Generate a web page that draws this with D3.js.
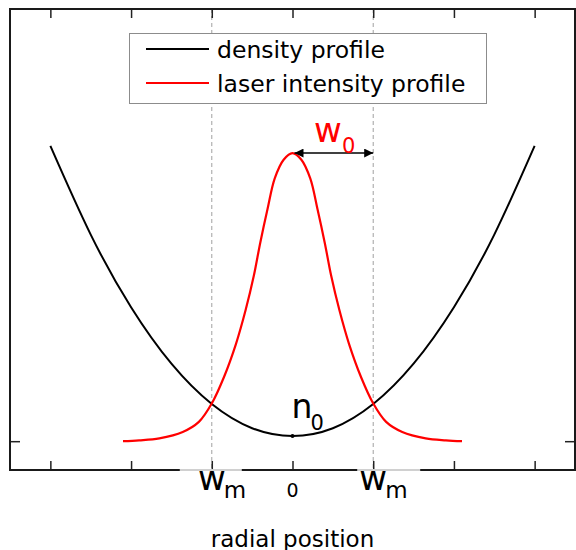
<!DOCTYPE html>
<html>
<head>
<meta charset="utf-8">
<script src="https://cdn.jsdelivr.net/npm/d3@7"></script>
<style>
  html, body { margin: 0; padding: 0; background: #fff; }
  svg { display: block; font-family: "DejaVu Sans", Verdana, sans-serif; }
</style>
</head>
<body>
<svg id="chart" width="576" height="550"></svg>
<script>
// ---------- data ----------
const densityX = [-3, -2.5, -2, -1.5, -1, -0.5, 0, 0.5, 1, 1.5, 2, 2.5, 3];
const densityY = [1.025, 0.717, 0.465, 0.269, 0.129, 0.045, 0.018, 0.045, 0.129, 0.269, 0.465, 0.717, 1.025];

const laserX = [-2.1, -1.9, -1.65, -1.36, -1.16, -1.0, -0.85, -0.7, -0.58, -0.48, -0.4, -0.31, -0.22, -0.11, 0,
                0.11, 0.22, 0.31, 0.4, 0.48, 0.58, 0.7, 0.85, 1.0, 1.16, 1.36, 1.65, 1.9, 2.1];
const laserY = [0.0, 0.003, 0.010, 0.032, 0.067, 0.131, 0.222, 0.338, 0.456, 0.573, 0.688, 0.805, 0.912, 0.977, 1.0,
                0.977, 0.912, 0.805, 0.688, 0.573, 0.456, 0.338, 0.222, 0.131, 0.067, 0.032, 0.010, 0.003, 0.0];

const xTickValues = [-3, -2, -1, 0, 1, 2, 3];
const yTickValues = [0];
const xTickLabelValues = [-1, 0, 1];
const xTickLabelMain = ["w", "0", "w"];
const xTickLabelSub = ["m", "", "m"];
const waistMarkers = [-1, 1];           // dashed lines at ±w_m
const w0Arrow = [0, 1];                 // arrow from peak to w0
const n0Point = [0, 0.018];

const seriesNames = ["density profile", "laser intensity profile"];
const seriesColors = ["#000000", "#ff0000"];
const xAxisTitle = "radial position";

// ---------- layout ----------
const svg = d3.select("#chart");
const pL = 10, pR = 575, pT = 9, pB = 470;

const x = d3.scaleLinear().domain([-3.5, 3.5]).range([pL, pR]);
const y = d3.scaleLinear().domain([-0.1, 1.5]).range([pB, pT]);

// dashed guide lines
svg.append("g").selectAll("line").data(waistMarkers).join("line")
  .attr("x1", d => x(d)).attr("x2", d => x(d))
  .attr("y1", pT).attr("y2", pB)
  .attr("stroke", "#a0a0a0").attr("stroke-width", 1)
  .attr("stroke-dasharray", "4,3");

// curves
const densityData = densityX.map((v, i) => [v, densityY[i]]);
const laserData = laserX.map((v, i) => [v, laserY[i]]);

svg.append("path").datum(densityData)
  .attr("fill", "none").attr("stroke", seriesColors[0]).attr("stroke-width", 2)
  .attr("d", d3.line().x(d => x(d[0])).y(d => y(d[1])).curve(d3.curveNatural));

svg.append("path").datum(laserData)
  .attr("fill", "none").attr("stroke", seriesColors[1]).attr("stroke-width", 2.2)
  .attr("d", d3.line().x(d => x(d[0])).y(d => y(d[1])).curve(d3.curveCatmullRom.alpha(0.5)));

// n0 dot
svg.append("circle").attr("cx", x(n0Point[0])).attr("cy", y(n0Point[1])).attr("r", 2).attr("fill", "#000");

// axes (inward ticks, no labels)
const axB = svg.append("g").attr("transform", `translate(0,${pB})`)
  .call(d3.axisBottom(x).tickValues(xTickValues).tickSize(-9).tickFormat(""));
const axT = svg.append("g").attr("transform", `translate(0,${pT})`)
  .call(d3.axisTop(x).tickValues(xTickValues).tickSize(-9).tickFormat(""));
const axL = svg.append("g").attr("transform", `translate(${pL},0)`)
  .call(d3.axisLeft(y).tickValues(yTickValues).tickSize(-10).tickFormat(""));
const axR = svg.append("g").attr("transform", `translate(${pR},0)`)
  .call(d3.axisRight(y).tickValues(yTickValues).tickSize(-10).tickFormat(""));
[axB, axT, axL, axR].forEach(g => {
  g.select(".domain").remove();
  g.selectAll(".tick line").attr("stroke", "#222").attr("stroke-width", 1.5);
});

// frame
svg.append("rect").attr("x", pL).attr("y", pT)
  .attr("width", pR - pL).attr("height", pB - pT)
  .attr("fill", "none").attr("stroke", "#1a1a1a").attr("stroke-width", 2);

// label boxes covering the bottom axis line (light grey segments)
const gapOffsets = [[-32, 30], null, [-16, 47]];
xTickLabelValues.forEach((v, i) => {
  if (!gapOffsets[i]) return;
  svg.append("line")
    .attr("x1", x(v) + gapOffsets[i][0]).attr("x2", x(v) + gapOffsets[i][1])
    .attr("y1", pB).attr("y2", pB)
    .attr("stroke", "#d0d0d0").attr("stroke-width", 2.2);
});

// custom tick labels
xTickLabelValues.forEach((v, i) => {
  const tx = x(v);
  if (xTickLabelSub[i]) {
    svg.append("text").attr("x", tx).attr("y", 490).attr("text-anchor", "middle")
      .attr("font-size", 34).attr("fill", "#000").text(xTickLabelMain[i]);
    svg.append("text").attr("x", tx + 12).attr("y", 497.5).attr("text-anchor", "start")
      .attr("font-size", 23).attr("fill", "#000").text(xTickLabelSub[i]);
  } else {
    svg.append("text").attr("x", tx).attr("y", 496.5).attr("text-anchor", "middle")
      .attr("font-size", 19).attr("fill", "#000").text(xTickLabelMain[i]);
  }
});

// axis title
svg.append("text").attr("x", x(0)).attr("y", 546.5).attr("text-anchor", "middle")
  .attr("font-size", 23).attr("fill", "#000").text(xAxisTitle);

// n0 label
svg.append("text").attr("x", x(n0Point[0]) - 1).attr("y", 418).attr("font-size", 33).attr("fill", "#000").text("n");
svg.append("text").attr("x", x(n0Point[0]) + 18).attr("y", 430).attr("font-size", 21).attr("fill", "#000").text("0");

// w0 arrow
const defs = svg.append("defs");
defs.append("marker").attr("id", "ah").attr("viewBox", "0 0 10 10")
  .attr("refX", 10).attr("refY", 5).attr("markerWidth", 11).attr("markerHeight", 9)
  .attr("markerUnits", "userSpaceOnUse").attr("orient", "auto-start-reverse")
  .append("path").attr("d", "M0,0 L10,5 L0,10 Z").attr("fill", "#000");
svg.append("line")
  .attr("x1", x(w0Arrow[0]) + 2).attr("x2", x(w0Arrow[1]))
  .attr("y1", y(1)).attr("y2", y(1))
  .attr("stroke", "#000").attr("stroke-width", 1.5)
  .attr("marker-start", "url(#ah)").attr("marker-end", "url(#ah)");
svg.append("text").attr("x", 328).attr("y", 141.5).attr("text-anchor", "middle")
  .attr("font-size", 34).attr("fill", "#ff0000").text("w");
svg.append("text").attr("x", 342).attr("y", 153).attr("font-size", 21).attr("fill", "#ff0000").text("0");

// legend
const lg = svg.append("g");
lg.append("rect").attr("x", 129.5).attr("y", 33.5).attr("width", 357).attr("height", 70)
  .attr("fill", "#fff").attr("stroke", "#8c8c8c").attr("stroke-width", 1);
seriesNames.forEach((name, i) => {
  const ly = 49 + i * 34;
  lg.append("line").attr("x1", 146).attr("x2", 209).attr("y1", ly).attr("y2", ly)
    .attr("stroke", seriesColors[i]).attr("stroke-width", 2);
  lg.append("text").attr("x", 217).attr("y", ly + 9).attr("font-size", 23.5)
    .attr("fill", "#000").text(name);
});
</script>
</body>
</html>
